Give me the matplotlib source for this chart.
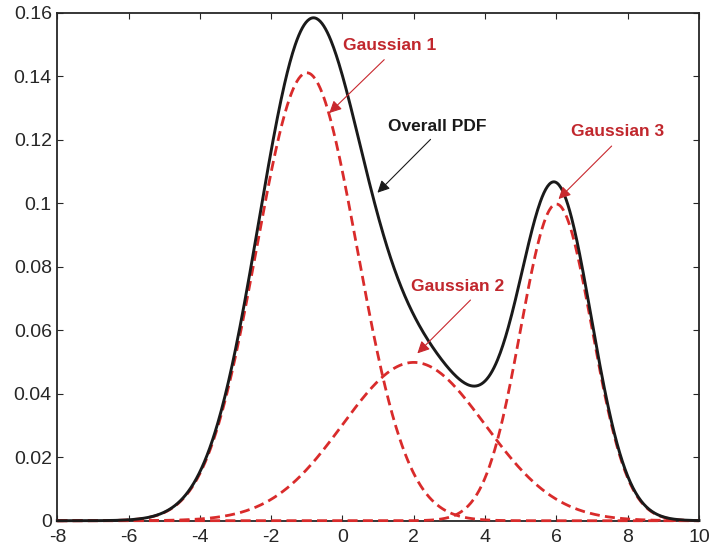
import numpy as np
import matplotlib
matplotlib.use("Agg")
import matplotlib.pyplot as plt

# Mixture component parameters
component_names = ["Gaussian 1", "Gaussian 2", "Gaussian 3"]
weights = [0.5, 0.25, 0.25]
means = [-1.0, 2.0, 6.0]
sigmas = [1.414, 2.0, 1.0]

x_range = [-8, 10]
x_ticks = [-8, -6, -4, -2, 0, 2, 4, 6, 8, 10]
y_ticks = [0, 0.02, 0.04, 0.06, 0.08, 0.1, 0.12, 0.14, 0.16]
y_tick_labels = ["0", "0.02", "0.04", "0.06", "0.08", "0.1", "0.12", "0.14", "0.16"]

# annotation: label, text position, arrow start, arrow tip
ann_labels = ["Gaussian 1", "Overall PDF", "Gaussian 2", "Gaussian 3"]
ann_text_xy = [(1.31, 0.1498), (2.66, 0.1241), (3.22, 0.0739), (7.71, 0.1225)]
ann_start_xy = [(1.17, 0.1452), (2.47, 0.1201), (3.59, 0.0695), (7.55, 0.1180)]
ann_tip_xy = [(-0.37, 0.1284), (0.98, 0.1033), (2.10, 0.0527), (6.06, 0.1013)]

plt.rcParams['font.family'] = ['Liberation Sans', 'DejaVu Sans']

RED = "#d92b2b"
TXT_RED = "#c1272d"
BLACK = "#1a1a1a"

x = np.linspace(x_range[0], x_range[1], 721)
comps = []
for w, m, s in zip(weights, means, sigmas):
    comps.append(w / (s * np.sqrt(2 * np.pi)) * np.exp(-0.5 * ((x - m) / s) ** 2))
total = np.sum(comps, axis=0)

fig = plt.figure(figsize=(7.12, 5.49), dpi=100)
ax = fig.add_axes([0.0805, 0.0515, 0.9012, 0.9254])

for c in comps:
    ax.plot(x, c, color=RED, lw=2.0, linestyle=(0, (3.6, 1.9)), zorder=2,
            clip_on=False)
ax.plot(x, total, color=BLACK, lw=2.1, zorder=3, clip_on=False)

ax.set_xlim(x_range)
ax.set_ylim(0, 0.16)
ax.set_xticks(x_ticks)
ax.set_xticklabels([str(t) for t in x_ticks])
ax.set_yticks(y_ticks)
ax.set_yticklabels(y_tick_labels)
ax.tick_params(direction='in', length=4, width=0.8, top=True, right=True,
               labelsize=14, colors='#262626', pad=4)
ax.tick_params(axis='x', pad=6)
for sp in ax.spines.values():
    sp.set_linewidth(1.3)
    sp.set_color('#262626')
    sp.set_zorder(1)

for lab, txy, sxy, tip in zip(ann_labels, ann_text_xy, ann_start_xy, ann_tip_xy):
    col = BLACK if lab == "Overall PDF" else TXT_RED
    acol = BLACK if lab == "Overall PDF" else "#c8282e"
    ax.text(txy[0], txy[1], lab, color=col, fontsize=12.5, fontweight='bold',
            ha='center', va='center', zorder=5)
    ax.annotate("", xy=tip, xytext=sxy,
                arrowprops=dict(arrowstyle='-|>', color=acol, lw=0.8,
                                mutation_scale=18, shrinkA=0, shrinkB=0),
                zorder=5)

fig.savefig("out.png", dpi=100)
